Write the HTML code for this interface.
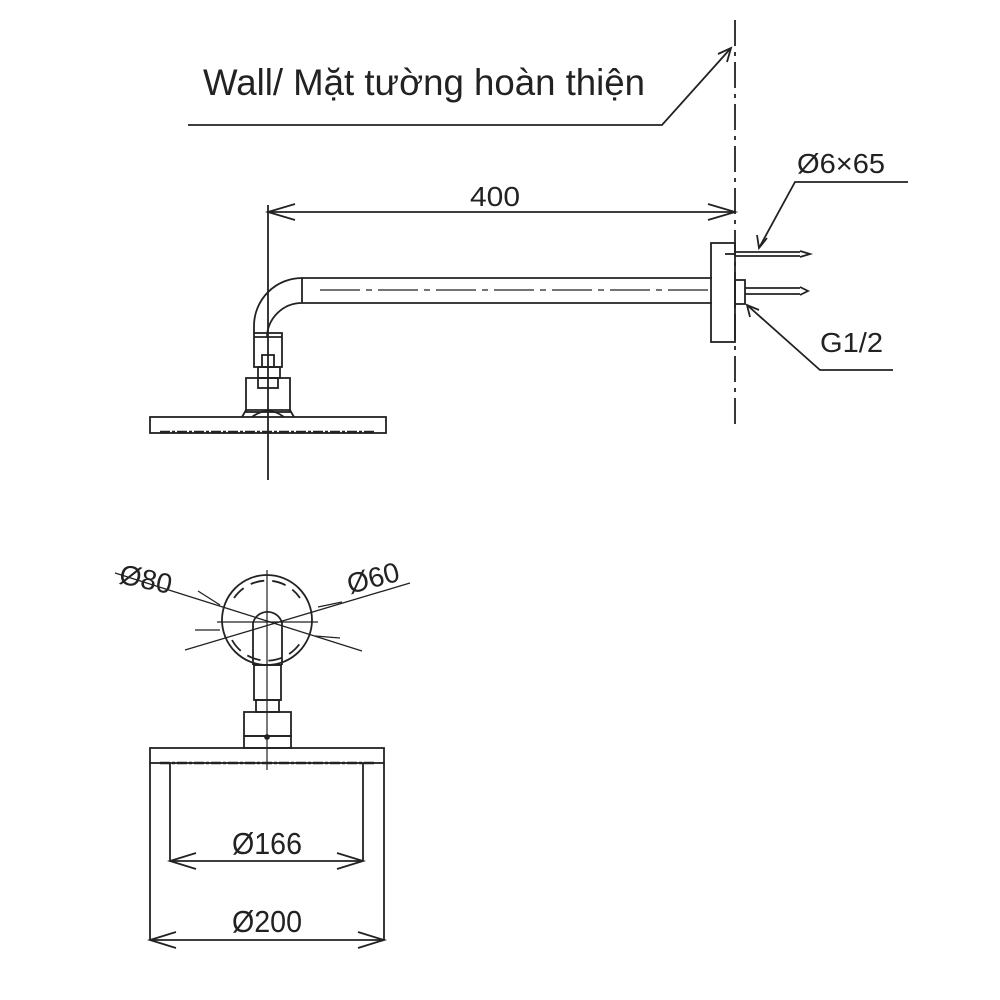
<!DOCTYPE html>
<html><head><meta charset="utf-8"><style>html,body{margin:0;padding:0;background:#fff}svg{display:block}text{font-family:"Liberation Sans",sans-serif;fill:#222}</style></head>
<body>
<svg width="1000" height="1000" viewBox="0 0 1000 1000" xmlns="http://www.w3.org/2000/svg" fill="none" stroke="#222" stroke-width="1.8">
<!-- wall -->
<line x1="735" y1="20" x2="735" y2="430" stroke-dasharray="26,6,4,6"/>
<text x="203" y="95" font-size="37" stroke="none" textLength="442" lengthAdjust="spacingAndGlyphs">Wall/ Mặt tường hoàn thiện</text>
<polyline points="188,125 662,125 731,48"/>
<polyline points="718,54 731,48 727,62"/>
<!-- 400 dim -->
<line x1="268" y1="205" x2="268" y2="480"/>
<line x1="268" y1="212" x2="735" y2="212"/>
<polyline points="295,204 268,212 295,220"/>
<polyline points="708,204 735,212 708,220"/>
<text x="470" y="206" font-size="28" stroke="none" textLength="50" lengthAdjust="spacingAndGlyphs">400</text>
<!-- pipe -->
<path d="M712,278 L302,278 A48,48 0 0 0 254,326 L254,333"/>
<path d="M712,303 L302,303 A35,35 0 0 0 267,338"/>
<line x1="302" y1="278" x2="302" y2="303"/>
<line x1="320" y1="290" x2="712" y2="290" stroke-dasharray="40,6,6,6" stroke-width="1.2"/>
<rect x="254" y="333" width="28" height="34"/>
<line x1="254" y1="337" x2="282" y2="337"/>
<rect x="262" y="355" width="12" height="12"/>
<rect x="258" y="367" width="22" height="11"/>
<rect x="246" y="378" width="44" height="34"/>
<rect x="258" y="378" width="20" height="10"/>
<path d="M242,417 L246,410 L290,410 L294,417"/>
<path d="M252,417 Q268,405 284,417"/>
<rect x="150" y="417" width="236" height="16"/>
<line x1="160" y1="432" x2="376" y2="432" stroke-dasharray="10,2,3,2" stroke-width="2.5"/>
<!-- flange -->
<rect x="711" y="243" width="24" height="99"/>
<line x1="735" y1="252" x2="800" y2="252"/>
<line x1="735" y1="256" x2="800" y2="256"/>
<polyline points="800,251 810,254 800,257"/>
<line x1="725" y1="254" x2="735" y2="254"/>
<rect x="735" y="280" width="10" height="24"/>
<line x1="745" y1="288" x2="800" y2="288"/>
<line x1="745" y1="294" x2="800" y2="294"/>
<polyline points="800,287 808,291 800,295"/>
<!-- leaders -->
<text x="797" y="173" font-size="28" stroke="none" textLength="88" lengthAdjust="spacingAndGlyphs">Ø6×65</text>
<polyline points="908,182 795,182 759,248"/>
<polyline points="757,235 759,248 767,238"/>
<text x="820" y="352" font-size="28" stroke="none" textLength="63" lengthAdjust="spacingAndGlyphs">G1/2</text>
<polyline points="893,370 820,370 747,305"/>
<polyline points="750,317 747,305 759,310"/>
<!-- bottom view -->
<circle cx="267" cy="620" r="45"/>
<path d="M234,598 A40,40 0 0 1 300,598" stroke-dasharray="14,8"/>
<path d="M232,640 A40,40 0 0 0 302,640" stroke-dasharray="14,8"/>
<line x1="267" y1="570" x2="267" y2="770" stroke-width="1.2"/>
<line x1="217" y1="622" x2="318" y2="622" stroke-width="1.2"/>
<path d="M253,665 L253,623 A15,15 0 0 1 282,623 L282,665"/>
<line x1="253" y1="665" x2="282" y2="665"/>
<rect x="254" y="665" width="27" height="35"/>
<rect x="256" y="700" width="23" height="12"/>
<rect x="244" y="712" width="47" height="24"/>
<rect x="244" y="736" width="47" height="12"/>
<circle cx="267" cy="737" r="2" fill="#222"/>
<rect x="150" y="748" width="234" height="15"/>
<line x1="160" y1="763" x2="375" y2="763" stroke-dasharray="10,2,3,2" stroke-width="2.5"/>
<!-- crossing leaders -->
<line x1="115" y1="573" x2="362" y2="651" stroke-width="1.3"/>
<line x1="410" y1="583" x2="185" y2="650" stroke-width="1.3"/>
<line x1="198" y1="591" x2="220" y2="605" stroke-width="1.3"/>
<line x1="195" y1="630" x2="220" y2="630" stroke-width="1.3"/>
<line x1="318" y1="607" x2="342" y2="602" stroke-width="1.3"/>
<line x1="315" y1="636" x2="340" y2="638" stroke-width="1.3"/>
<text x="118" y="583" font-size="28" stroke="none" transform="rotate(12 118 583)">Ø80</text>
<text x="350" y="594" font-size="28" stroke="none" transform="rotate(-15 350 594)">Ø60</text>
<!-- dims -->
<line x1="170" y1="763" x2="170" y2="861"/>
<line x1="363" y1="763" x2="363" y2="861"/>
<line x1="170" y1="861" x2="363" y2="861"/>
<polyline points="196,853 170,861 196,869"/>
<polyline points="337,853 363,861 337,869"/>
<text x="232" y="854" font-size="31" stroke="none" textLength="70" lengthAdjust="spacingAndGlyphs">Ø166</text>
<line x1="150" y1="763" x2="150" y2="940"/>
<line x1="384" y1="763" x2="384" y2="940"/>
<line x1="150" y1="940" x2="384" y2="940"/>
<polyline points="176,932 150,940 176,948"/>
<polyline points="358,932 384,940 358,948"/>
<text x="232" y="932" font-size="31" stroke="none" textLength="70" lengthAdjust="spacingAndGlyphs">Ø200</text>
</svg>
</body></html>
